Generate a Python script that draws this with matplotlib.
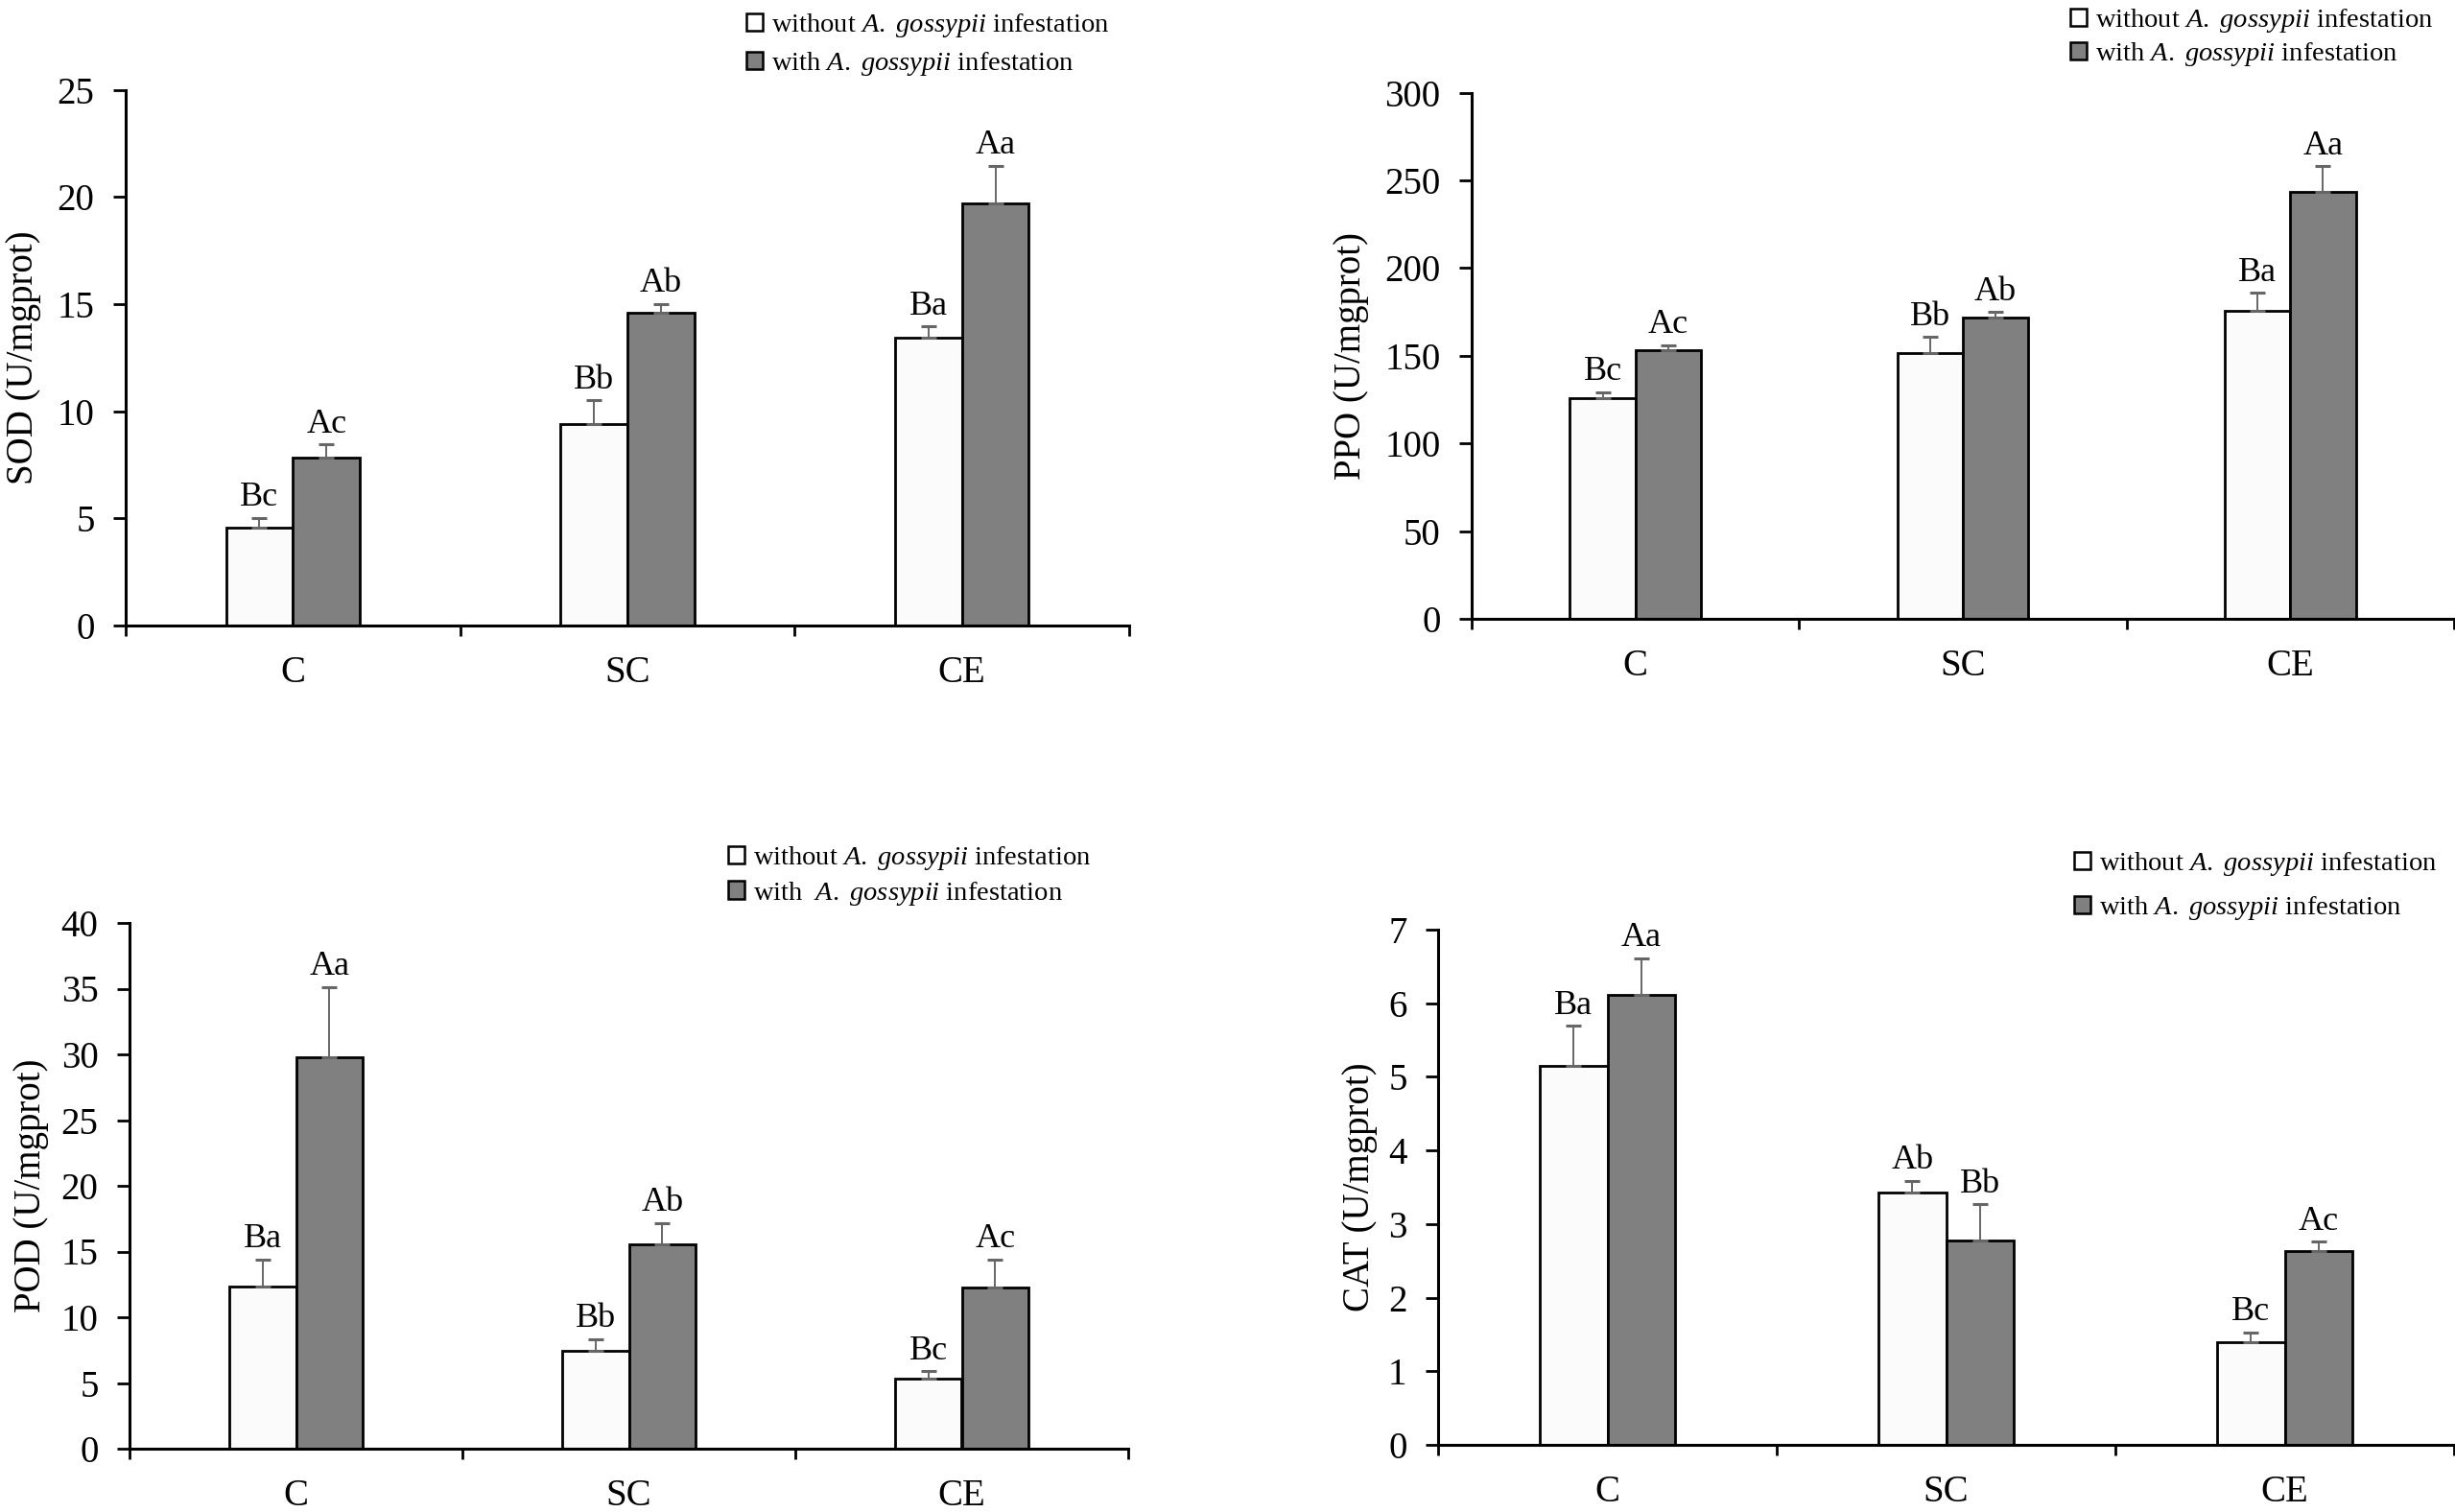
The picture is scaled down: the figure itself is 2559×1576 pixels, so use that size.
import matplotlib
matplotlib.use("Agg")
import matplotlib.pyplot as plt
from matplotlib.patches import Patch
import numpy as np

plt.rcParams['font.family'] = ['Liberation Serif', 'DejaVu Serif']
plt.rcParams['mathtext.fontset'] = 'custom'
plt.rcParams['mathtext.rm'] = 'Liberation Serif'
plt.rcParams['mathtext.it'] = 'Liberation Serif:italic'

# ---------------- data ----------------
categories = ['C', 'SC', 'CE']

sod_without = [4.58, 9.40, 13.44]
sod_without_err = [0.44, 1.10, 0.52]
sod_with = [7.85, 14.59, 19.68]
sod_with_err = [0.60, 0.41, 1.77]
sod_letters_without = ['Bc', 'Bb', 'Ba']
sod_letters_with = ['Ac', 'Ab', 'Aa']

ppo_without = [125.6, 151.5, 175.5]
ppo_without_err = [3.7, 9.3, 10.4]
ppo_with = [153.3, 172.0, 243.5]
ppo_with_err = [2.7, 3.0, 14.7]
ppo_letters_without = ['Bc', 'Bb', 'Ba']
ppo_letters_with = ['Ac', 'Ab', 'Aa']

pod_without = [12.36, 7.47, 5.30]
pod_without_err = [2.04, 0.88, 0.61]
pod_with = [29.78, 15.55, 12.26]
pod_with_err = [5.33, 1.63, 2.14]
pod_letters_without = ['Ba', 'Bb', 'Bc']
pod_letters_with = ['Aa', 'Ab', 'Ac']

cat_without = [5.15, 3.43, 1.39]
cat_without_err = [0.54, 0.16, 0.14]
cat_with = [6.12, 2.78, 2.63]
cat_with_err = [0.49, 0.49, 0.13]
cat_letters_without = ['Ba', 'Ab', 'Bc']
cat_letters_with = ['Aa', 'Bb', 'Ac']

ylabels = ['SOD (U/mgprot)', 'PPO (U/mgprot)', 'POD (U/mgprot)', 'CAT (U/mgprot)']
ymax = [25, 300, 40, 7]
ystep = [5, 50, 5, 1]

legend_without = r'without $\mathit{A.\ gossypii}$ infestation'
legend_with = r'with $\mathit{A.\ gossypii}$ infestation'
legend_with_bl = r'with  $\mathit{A.\ gossypii}$ infestation'

# ---------------- layout (pixels) ----------------
W, H = 2559, 1576
# left, right, top(ymax), bottom(y0)
rects = [
    (131, 1177, 93.6, 652),
    (1534, 2558, 96.6, 645),
    (135, 1176, 962, 1510),
    (1499, 2558, 969, 1506),
]
ylabel_pos = [(25, 373), (1409, 371), (33, 1236), (1417, 1237)]
legend_pos = [(778, 46.5, 0.36), (2158, 39, 0.21), (759, 913, 0.25), (2162, 923.5, 0.57)]

panels = [
    (sod_without, sod_without_err, sod_with, sod_with_err, sod_letters_without, sod_letters_with),
    (ppo_without, ppo_without_err, ppo_with, ppo_with_err, ppo_letters_without, ppo_letters_with),
    (pod_without, pod_without_err, pod_with, pod_with_err, pod_letters_without, pod_letters_with),
    (cat_without, cat_without_err, cat_with, cat_with_err, cat_letters_without, cat_letters_with),
]

fig = plt.figure(figsize=(W / 100, H / 100), dpi=100)

white_c = '#fbfbfb'
gray_c = '#808080'
bw = 0.2
x = np.arange(len(categories))

for i, (vw, ew, vg, eg, lw_, lg_) in enumerate(panels):
    l, r, t, b = rects[i]
    ax = fig.add_axes([l / W, 1 - b / H, (r - l) / W, (b - t) / H])
    ax.bar(x - bw / 2, vw, bw, color=white_c, edgecolor='black', linewidth=2, zorder=2)
    ax.bar(x + bw / 2, vg, bw, color=gray_c, edgecolor='black', linewidth=2, zorder=2)
    z = np.zeros(len(x))
    ax.errorbar(x - bw / 2, vw, yerr=[z, ew], fmt='none', ecolor='#666666',
                elinewidth=1.4, capsize=6, capthick=2.2, zorder=3)
    ax.errorbar(x + bw / 2, vg, yerr=[z, eg], fmt='none', ecolor='#666666',
                elinewidth=1.4, capsize=6, capthick=2.2, zorder=3)
    for j in range(len(x)):
        ax.annotate(lw_[j], xy=(x[j] - bw / 2, vw[j] + ew[j]), xytext=(0, 9),
                    textcoords='offset points', ha='center', va='baseline', fontsize=26)
        ax.annotate(lg_[j], xy=(x[j] + bw / 2, vg[j] + eg[j]), xytext=(0, 9),
                    textcoords='offset points', ha='center', va='baseline', fontsize=26)
    ax.set_xlim(-0.5, 2.5)
    ax.set_ylim(0, ymax[i])
    ax.set_yticks(np.arange(0, ymax[i] + ystep[i] / 2, ystep[i]))
    ax.set_xticks(x)
    ax.set_xticklabels(categories)
    ax.set_xticks([-0.5, 0.5, 1.5, 2.5], minor=True)
    ax.tick_params(axis='x', which='major', length=0, pad=22, labelsize=28)
    ax.tick_params(axis='x', which='minor', length=8, width=2, direction='out')
    ax.tick_params(axis='y', which='major', length=9.4, width=2, direction='out',
                   pad=14, labelsize=28)
    for s in ['top', 'right']:
        ax.spines[s].set_visible(False)
    for s in ['left', 'bottom']:
        ax.spines[s].set_linewidth(2.2)
    ax.spines['left'].set_zorder(4)
    ax.spines['bottom'].set_zorder(4)

    yx, yy = ylabel_pos[i]
    fig.text(yx / W, 1 - yy / H, ylabels[i], rotation=90, ha='center', va='center', fontsize=28)

    mx, my, ls = legend_pos[i]
    handles = [Patch(facecolor='white', edgecolor='black', linewidth=1.8),
               Patch(facecolor=gray_c, edgecolor='black', linewidth=1.8)]
    labels = [legend_without, legend_with_bl if i == 2 else legend_with]
    fig.legend(handles, labels, loc='center left', bbox_to_anchor=(mx / W, 1 - my / H),
               bbox_transform=fig.transFigure, frameon=False, fontsize=20.5,
               handlelength=0.6, handleheight=0.6, handletextpad=0.3, borderpad=0,
               borderaxespad=0, labelspacing=ls)

fig.savefig('out.png', dpi=100)
